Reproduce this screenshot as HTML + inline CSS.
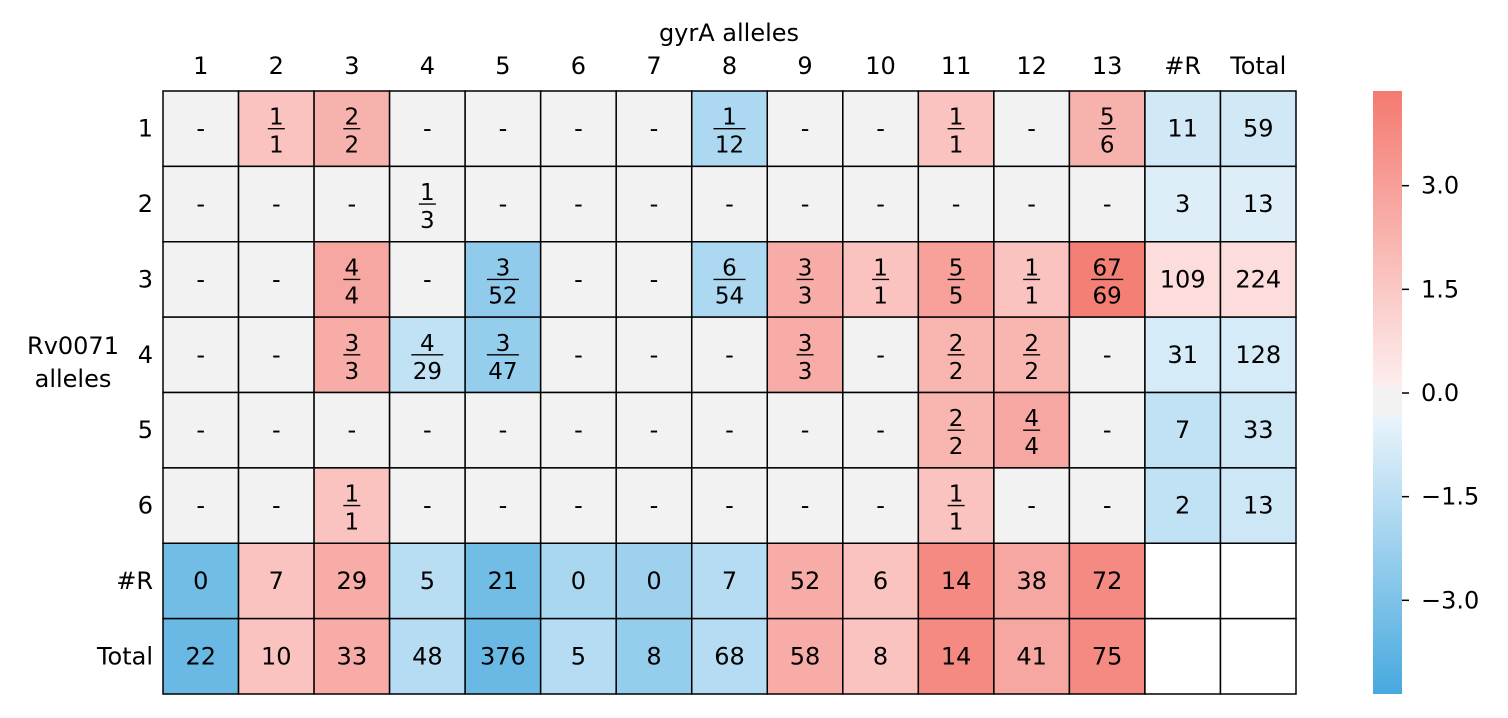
<!DOCTYPE html>
<html><head><meta charset="utf-8"><style>
html,body{margin:0;padding:0;background:#fff;}
svg{display:block;font-family:"DejaVu Sans","Liberation Sans",sans-serif;}
</style></head><body>
<svg id="chart" width="1508" height="718" xmlns="http://www.w3.org/2000/svg">
<defs>
<linearGradient id="cbg" x1="0" y1="0" x2="0" y2="1">
<stop offset="0" stop-color="#f47a70"/>
<stop offset="0.49" stop-color="#fdeeee"/>
<stop offset="0.49" stop-color="#f2f2f2"/>
<stop offset="0.54" stop-color="#f2f2f2"/>
<stop offset="0.54" stop-color="#e9f4fb"/>
<stop offset="1" stop-color="#47a9df"/>
</linearGradient>
</defs>
<text x="729" y="41" font-size="24" text-anchor="middle">gyrA alleles</text>
<text x="73" y="354" font-size="24" text-anchor="middle">Rv0071</text>
<text x="73" y="387" font-size="24" text-anchor="middle">alleles</text>
<g id="cells"></g>
<g id="labels"></g>
<rect x="1373" y="91" width="29" height="603" fill="url(#cbg)"/>
<g id="cbticks"></g>
</svg>
<script>
const colLabels=["1","2","3","4","5","6","7","8","9","10","11","12","13","#R","Total"];
const rowLabels=["1","2","3","4","5","6","#R","Total"];
const cellText=[
["-","1/1","2/2","-","-","-","-","1/12","-","-","1/1","-","5/6","11","59"],
["-","-","-","1/3","-","-","-","-","-","-","-","-","-","3","13"],
["-","-","4/4","-","3/52","-","-","6/54","3/3","1/1","5/5","1/1","67/69","109","224"],
["-","-","3/3","4/29","3/47","-","-","-","3/3","-","2/2","2/2","-","31","128"],
["-","-","-","-","-","-","-","-","-","-","2/2","4/4","-","7","33"],
["-","-","1/1","-","-","-","-","-","-","-","1/1","-","-","2","13"],
["0","7","29","5","21","0","0","7","52","6","14","38","72","",""],
["22","10","33","48","376","5","8","68","58","8","14","41","75","",""]];
const cellValues=[
[0,1.8,2.4,0,0,0,0,-1.8,0,0,1.8,0,2.4,-0.9,-0.9],
[0,0,0,0,0,0,0,0,0,0,0,0,0,-0.6,-0.6],
[0,0,2.8,0,-2.5,0,0,-1.8,2.6,1.8,3.0,1.8,4.2,0.9,0.9],
[0,0,2.6,-1.3,-2.4,0,0,0,2.6,0,2.3,2.3,0,-0.8,-0.8],
[0,0,0,0,0,0,0,0,0,0,2.3,2.8,0,-1.3,-1.0],
[0,0,1.8,0,0,0,0,0,0,0,1.8,0,0,-1.3,-1.0],
[-3.3,1.8,2.6,-1.5,-3.3,-1.9,-2.2,-1.6,2.6,1.8,3.8,2.8,3.8,null,null],
[-3.5,1.8,2.6,-1.6,-3.5,-1.6,-2.4,-1.6,2.6,1.8,3.8,2.8,3.8,null,null]];
const cbTicks=[3.0,1.5,0.0,-1.5,-3.0];

const NS="http://www.w3.org/2000/svg";
const X0=163,Y0=91,CW=(1296-163)/15,CH=(694-91)/8;
const VMAX=4.37;
function cx(i){return X0+i*CW;}
function cy(j){return Y0+j*CH;}
function cbY(v){return 393-v*(302/VMAX);}
function lerp(a,b,t){return a.map((x,k)=>Math.round(x+(b[k]-x)*t));}
function color(v){
  if(v===null) return "#ffffff";
  if(Math.abs(v)<0.3) return "#f2f2f2";
  const t=Math.min(1,(Math.abs(v)-0.3)/(VMAX-0.3));
  const c=v>0?lerp([253,238,238],[244,122,112],t):lerp([233,244,251],[71,169,223],t);
  return "rgb("+c.join(",")+")";
}
function mk(tag,attrs,parent){const e=document.createElementNS(NS,tag);for(const k in attrs)e.setAttribute(k,attrs[k]);parent.appendChild(e);return e;}
const cells=document.getElementById("cells"),labels=document.getElementById("labels");
for(let j=0;j<rowLabels.length;j++){
  for(let i=0;i<colLabels.length;i++){
    const g=mk("g",{},cells);
    
    
    mk("rect",{x:cx(i),y:cy(j),width:CW,height:CH,fill:color(cellValues[j][i]),stroke:"#000","stroke-width":1.5},g);
    const t=cellText[j][i],mx=cx(i)+CW/2,my=cy(j)+CH/2;
    if(t.includes("/")){
      const [n,d]=t.split("/");
      const a=mk("text",{x:mx,y:my-4,"font-size":23,"text-anchor":"middle"},g);a.textContent=n;
      const b=mk("text",{x:mx,y:my+24,"font-size":23,"text-anchor":"middle"},g);b.textContent=d;
      const w=Math.max(n.length,d.length)*15+2;
      mk("line",{x1:mx-w/2,x2:mx+w/2,y1:my,y2:my,stroke:"#000","stroke-width":1.3},g);
    } else if(t){
      const a=mk("text",{x:mx,y:my+8,"font-size":24,"text-anchor":"middle"},g);a.textContent=t;
    }
  }
}
colLabels.forEach((l,i)=>{
  const e=mk("text",{x:cx(i)+CW/2,y:74,"font-size":24,"text-anchor":"middle"},labels);
  
  
  e.textContent=l;
});
rowLabels.forEach((l,j)=>{
  const e=mk("text",{x:153,y:cy(j)+CH/2+8,"font-size":24,"text-anchor":"end"},labels);
  
  
  e.textContent=l;
});
const cbt=document.getElementById("cbticks");
cbTicks.forEach(v=>{
  const y=cbY(v);
  const ln=mk("line",{x1:1402,x2:1409,y1:y,y2:y,stroke:"#000","stroke-width":1.5},cbt);
  
  
  const e=mk("text",{x:1421,y:y+8,"font-size":24},cbt);
  
  
  e.textContent=(v<0?"\u2212":"")+Math.abs(v).toFixed(1);
});
</script>
</body></html>
